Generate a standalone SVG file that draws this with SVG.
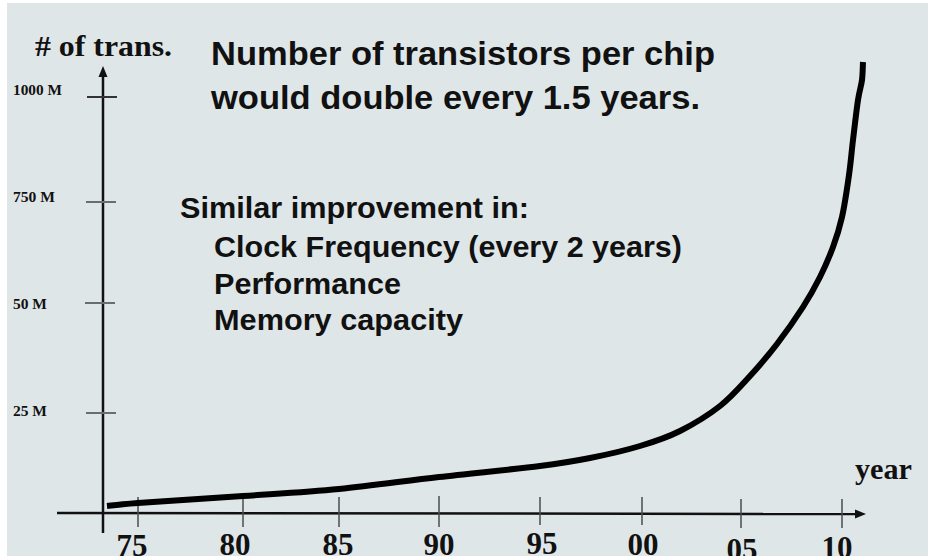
<svg xmlns="http://www.w3.org/2000/svg" width="928" height="556" viewBox="0 0 928 556">
<defs>
<style>
.serif{font-family:"Liberation Serif","Times New Roman",serif;font-weight:bold;fill:#111}
.sans{font-family:"Liberation Sans",Arial,sans-serif;font-weight:bold;fill:#111}
.ylab{font-size:15px}
.xlab{font-size:31px;text-anchor:middle}
.ytick{stroke:#6a6d70;stroke-width:2}
.xtick{stroke:#4a4c4e;stroke-width:1.5}
.axis{stroke:#111;stroke-width:2.5;fill:none}
</style>
</defs>
<rect x="0" y="0" width="928" height="556" fill="#ffffff"/>
<rect x="7" y="3" width="921" height="553" fill="#dfe6e8"/>

<g id="y-axis">
<line class="axis" x1="103" y1="76" x2="103" y2="533"/>
<polygon points="103,66 98.5,77 107.5,77" fill="#111"/>
<line class="ytick" x1="87" y1="97" x2="117" y2="97" style="stroke:#333"/>
<line class="ytick" x1="86" y1="202" x2="116" y2="202"/>
<line class="ytick" x1="85" y1="303" x2="115" y2="303"/>
<line class="ytick" x1="86" y1="413" x2="116" y2="413"/>
<text class="serif ylab" x="13" y="95" textLength="49" lengthAdjust="spacingAndGlyphs">1000 M</text>
<text class="serif ylab" x="13" y="202" textLength="42" lengthAdjust="spacingAndGlyphs">750 M</text>
<text class="serif ylab" x="13" y="309" textLength="34" lengthAdjust="spacingAndGlyphs">50 M</text>
<text class="serif ylab" x="13" y="416" textLength="34" lengthAdjust="spacingAndGlyphs">25 M</text>
<text class="serif" x="35" y="56" font-size="29" textLength="137" lengthAdjust="spacingAndGlyphs"># of trans.</text>
</g>

<g id="x-axis">
<line class="axis" x1="57" y1="513" x2="857" y2="514"/>
<polygon points="866,514 855,509.5 855,518.5" fill="#111"/>
<line class="xtick" x1="138" y1="497" x2="138" y2="527"/>
<line class="xtick" x1="243" y1="497" x2="243" y2="527"/>
<line class="xtick" x1="339" y1="497" x2="339" y2="527"/>
<line class="xtick" x1="439" y1="496" x2="439" y2="527"/>
<line class="xtick" x1="540" y1="497" x2="540" y2="525"/>
<line class="xtick" x1="642" y1="497" x2="642" y2="525"/>
<line class="xtick" x1="741" y1="499" x2="741" y2="528"/>
<line class="xtick" x1="842" y1="499" x2="842" y2="528"/>
<text class="serif xlab" x="132" y="556">75</text>
<text class="serif xlab" x="235" y="555">80</text>
<text class="serif xlab" x="338" y="555">85</text>
<text class="serif xlab" x="439" y="555">90</text>
<text class="serif xlab" x="542" y="554">95</text>
<text class="serif xlab" x="643" y="555">00</text>
<text class="serif xlab" x="742" y="560">05</text>
<text class="serif xlab" x="837" y="558">10</text>
<text class="serif" x="855" y="479" font-size="30" textLength="57" lengthAdjust="spacingAndGlyphs">year</text>
</g>

<g id="curve">
<path d="M107,506 C112.2,505.5 115.3,504.7 138,503 C160.7,501.3 209.5,498.3 243,496 C276.5,493.7 306.3,492.2 339,489 C371.7,485.8 405.5,480.8 439,477 C472.5,473.2 514.8,469.2 540,466 C565.2,462.8 573.3,461.3 590,458 C606.7,454.7 625,450.5 640,446 C655,441.5 666.7,437.7 680,431 C693.3,424.3 708.3,415.2 720,406 C731.7,396.8 740.5,386.3 750,376 C759.5,365.7 768.2,355.5 777,344 C785.8,332.5 795.8,318.2 803,307 C810.2,295.8 815,287 820,277 C825,267 829.3,257 833,247 C836.7,237 839.3,229 842,217 C844.7,205 847.2,187.8 849,175 C850.8,162.2 851.5,152.5 853,140 C854.5,127.5 856.5,110 858,100 C859.5,90 861.2,86.3 862,80 C862.8,73.7 862.8,65 863,62" fill="none" stroke="#000" stroke-width="6"/>
</g>

<g id="headline">
<text class="sans" x="211" y="65" font-size="33" textLength="504" lengthAdjust="spacingAndGlyphs">Number of transistors per chip</text>
<text class="sans" x="211" y="109" font-size="33" textLength="489" lengthAdjust="spacingAndGlyphs">would double every 1.5 years.</text>
</g>

<g id="improvements">
<text class="sans" x="180" y="218" font-size="29" textLength="349" lengthAdjust="spacingAndGlyphs">Similar improvement in:</text>
<text class="sans" x="214" y="257" font-size="29" textLength="468" lengthAdjust="spacingAndGlyphs">Clock Frequency (every 2 years)</text>
<text class="sans" x="214" y="294" font-size="29" textLength="187" lengthAdjust="spacingAndGlyphs">Performance</text>
<text class="sans" x="214" y="330" font-size="29" textLength="249" lengthAdjust="spacingAndGlyphs">Memory capacity</text>
</g>
</svg>
